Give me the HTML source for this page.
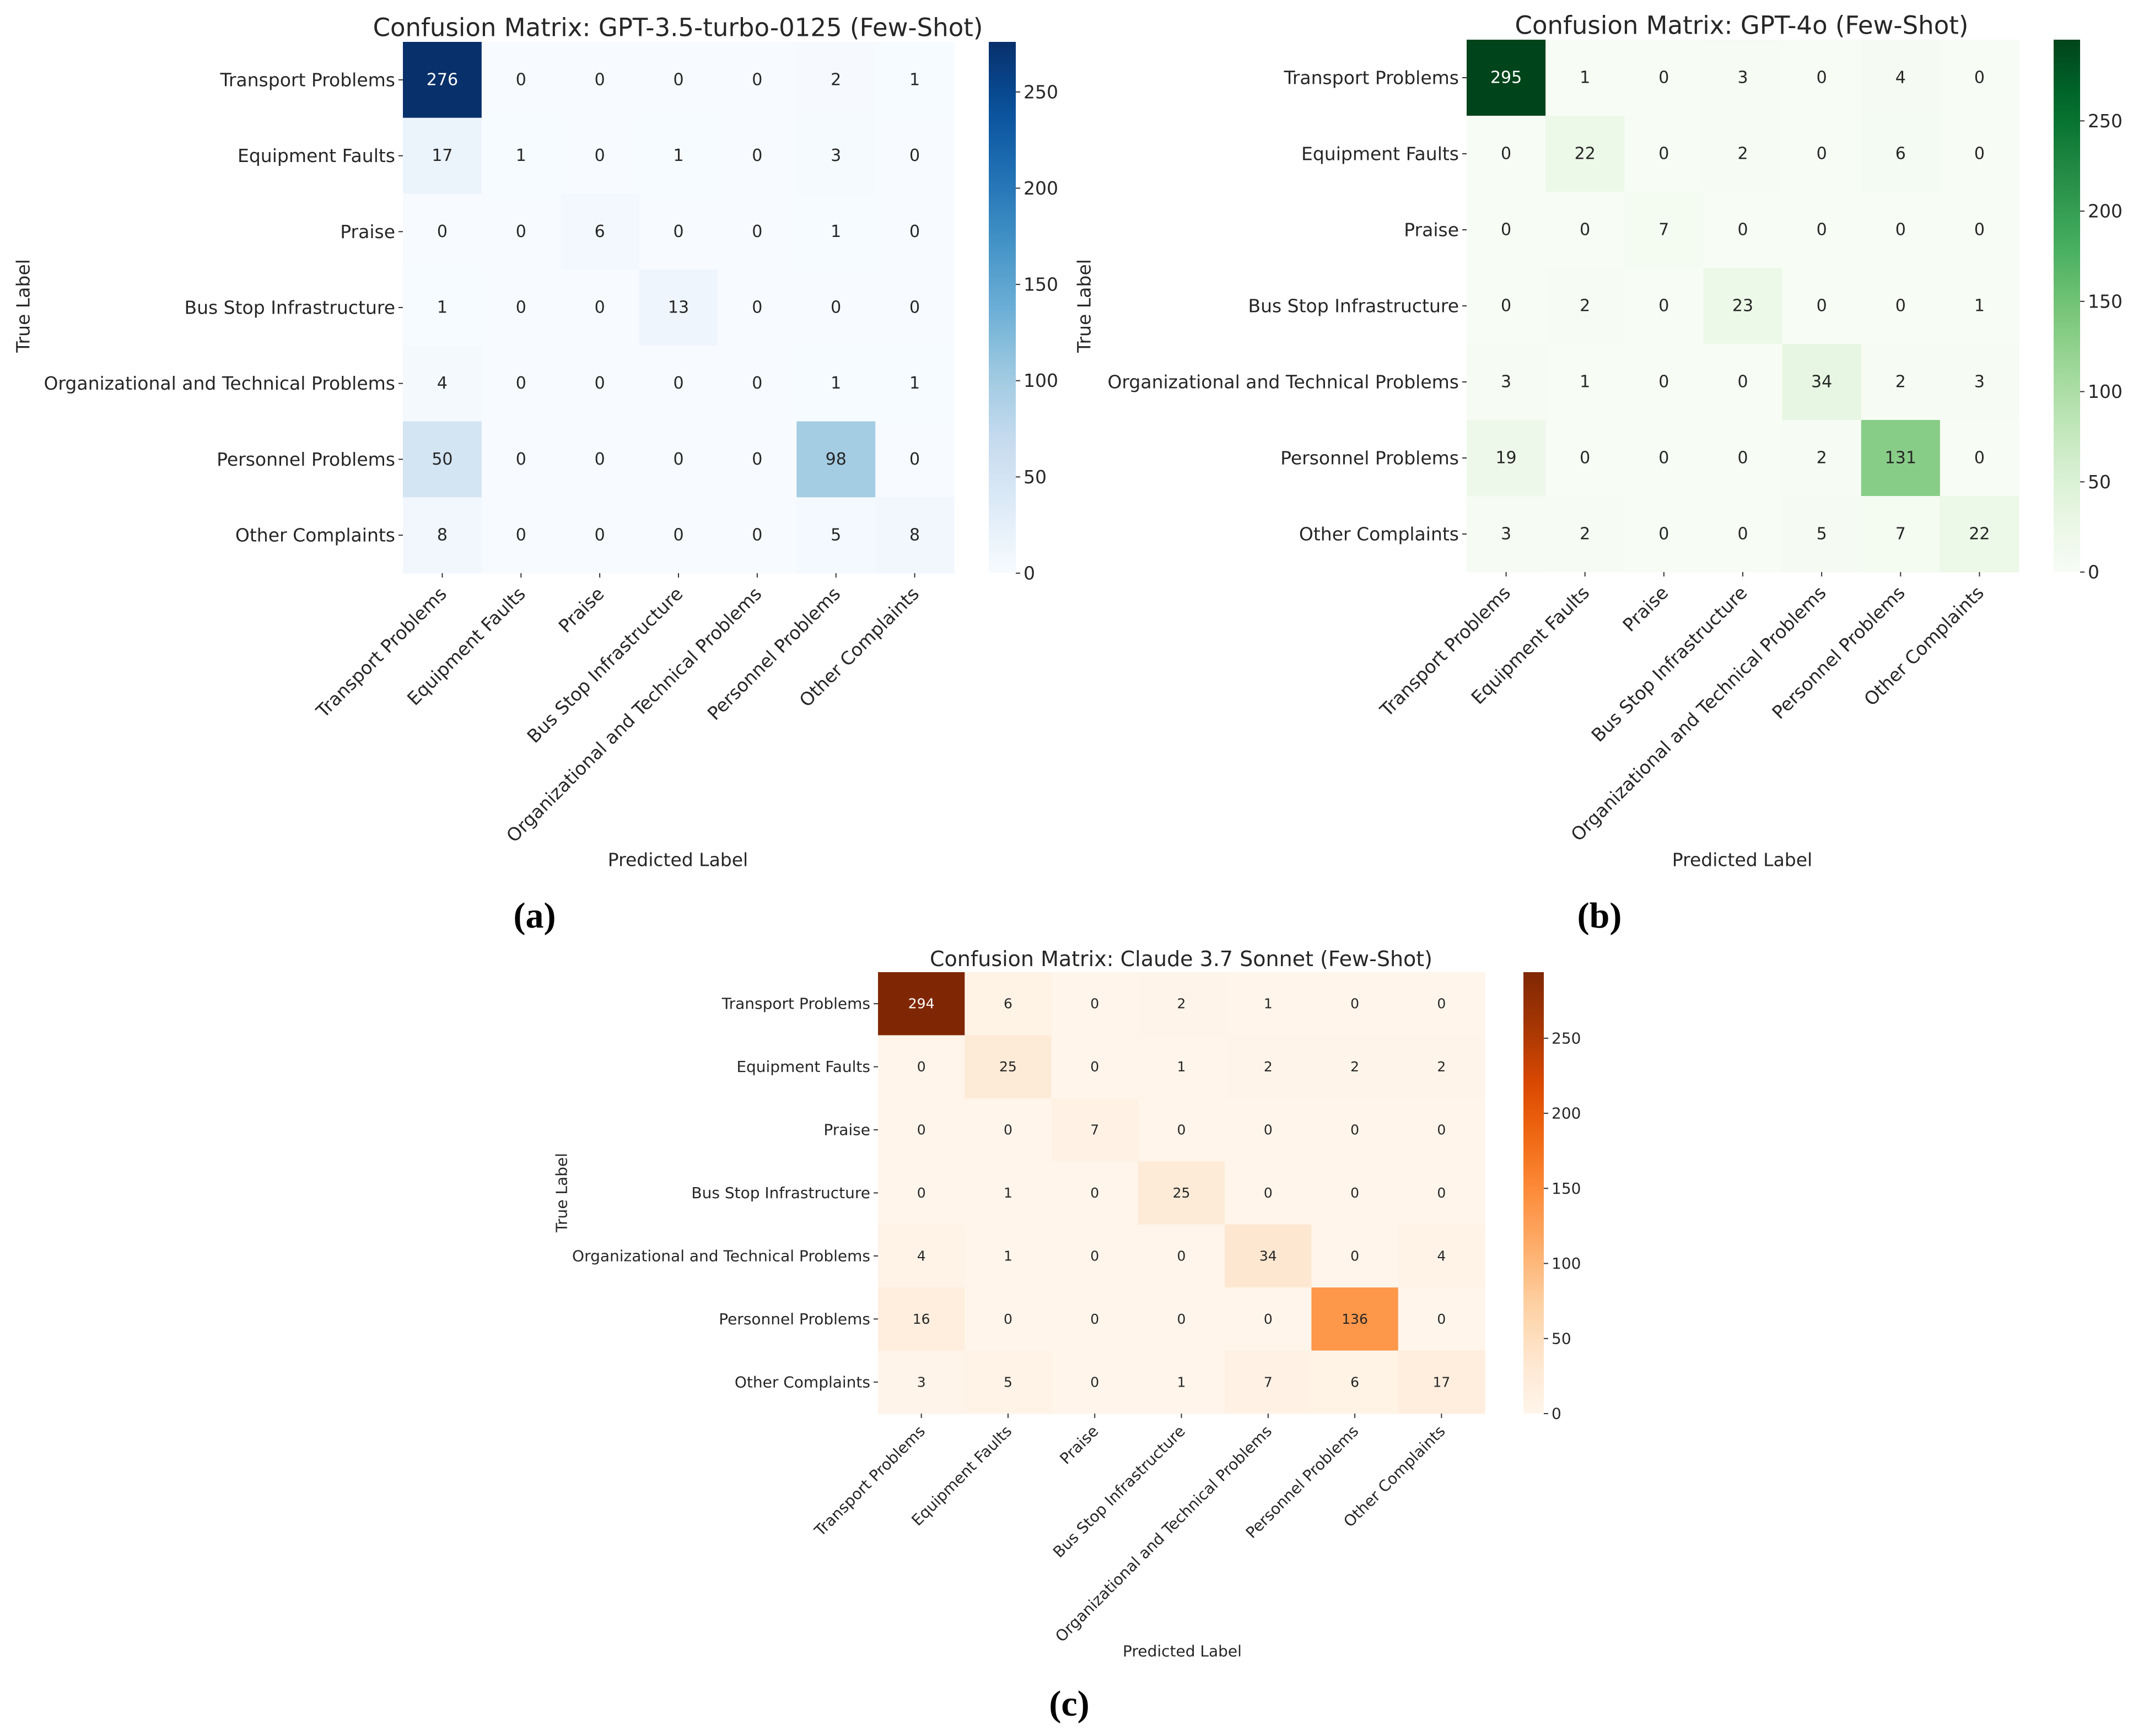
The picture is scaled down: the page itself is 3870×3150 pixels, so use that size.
<!DOCTYPE html>
<html><head><meta charset="utf-8"><style>
html,body{margin:0;padding:0;background:#fff;}
svg{display:block;}
text{font-family:"DejaVu Sans","Liberation Sans",sans-serif;}
</style></head>
<body>
<svg id="fig" width="3870" height="3150" viewBox="0 0 3870 3150" xmlns="http://www.w3.org/2000/svg"></svg>
<script>
const categories = ["Transport Problems","Equipment Faults","Praise","Bus Stop Infrastructure","Organizational and Technical Problems","Personnel Problems","Other Complaints"];
const gpt35Values = [
 [276,0,0,0,0,2,1],
 [17,1,0,1,0,3,0],
 [0,0,6,0,0,1,0],
 [1,0,0,13,0,0,0],
 [4,0,0,0,0,1,1],
 [50,0,0,0,0,98,0],
 [8,0,0,0,0,5,8]];
const gpt4oValues = [
 [295,1,0,3,0,4,0],
 [0,22,0,2,0,6,0],
 [0,0,7,0,0,0,0],
 [0,2,0,23,0,0,1],
 [3,1,0,0,34,2,3],
 [19,0,0,0,2,131,0],
 [3,2,0,0,5,7,22]];
const claudeValues = [
 [294,6,0,2,1,0,0],
 [0,25,0,1,2,2,2],
 [0,0,7,0,0,0,0],
 [0,1,0,25,0,0,0],
 [4,1,0,0,34,0,4],
 [16,0,0,0,0,136,0],
 [3,5,0,1,7,6,17]];
const colorbarTicks = [0,50,100,150,200,250];
const titles = ["Confusion Matrix: GPT-3.5-turbo-0125 (Few-Shot)","Confusion Matrix: GPT-4o (Few-Shot)","Confusion Matrix: Claude 3.7 Sonnet (Few-Shot)"];
const panelLetters = ["(a)","(b)","(c)"];

const BLUES=["#f7fbff","#deebf7","#c6dbef","#9ecae1","#6baed6","#4292c6","#2171b5","#08519c","#08306b"];
const GREENS=["#f7fcf5","#e5f5e0","#c7e9c0","#a1d99b","#74c476","#41ab5d","#238b45","#006d2c","#00441b"];
const ORANGES=["#fff5eb","#fee6ce","#fdd0a2","#fdae6b","#fd8d3c","#f16913","#d94801","#a63603","#7f2704"];

function hex(h){return [1,3,5].map(i=>parseInt(h.substr(i,2),16));}
function cmap(stops,t){
  t=Math.max(0,Math.min(1,t));const p=t*(stops.length-1);const i=Math.min(Math.floor(p),stops.length-2);const f=p-i;
  const a=hex(stops[i]),b=hex(stops[i+1]);return a.map((v,k)=>Math.round(v+(b[k]-v)*f));
}
function rgb(c){return "rgb("+c.join(",")+")";}
function lum(c){const l=c.map(v=>{v/=255;return v<=0.03928?v/12.92:Math.pow((v+0.055)/1.055,2.4);});return 0.2126*l[0]+0.7152*l[1]+0.0722*l[2];}

const svg=document.getElementById("fig");
const NS="http://www.w3.org/2000/svg";
function el(tag,attrs,parent){const e=document.createElementNS(NS,tag);for(const k in attrs)e.setAttribute(k,attrs[k]);(parent||svg).appendChild(e);return e;}
function txt(s,attrs,parent){const e=el("text",attrs,parent);e.textContent=s;return e;}

const panels=[
 {values:gpt35Values,stops:BLUES,x0:731,x1:1731,y0:76,y1:1040,cb0:1794,cb1:1843,fs:33,nfs:30,tx:1230,ty:50,tfs:45,px:1230,py:1560,ylx:42,yly:555,lx:970,ly:1683,name:"gpt35"},
 {values:gpt4oValues,stops:GREENS,x0:2661,x1:3663,y0:72,y1:1038,cb0:3726,cb1:3774,fs:33,nfs:30,tx:3160,ty:46,tfs:45,px:3161,py:1560,ylx:1967,yly:555,lx:2902,ly:1683,name:"gpt4o"},
 {values:claudeValues,stops:ORANGES,x0:1593,x1:2694,y0:1764,y1:2565,cb0:2764,cb1:2801,fs:28,nfs:25,tx:2143,ty:1740,tfs:38,px:2145,py:2996,ylx:1019,yly:2164,lx:1940,ly:3113,name:"claude"}
];

panels.forEach((P,pi)=>{
  const g=el("g",{});
  
  
  const vals=P.values;const n=categories.length;
  let vmax=0;vals.forEach(r=>r.forEach(v=>{if(v>vmax)vmax=v;}));
  const cw=(P.x1-P.x0)/n,ch=(P.y1-P.y0)/n;
  const xs=j=>P.x0+cw*j, ys=i=>P.y0+ch*i;
  for(let i=0;i<n;i++)for(let j=0;j<n;j++){
    const v=vals[i][j];const c=cmap(P.stops,v/vmax);
    const r=el("rect",{x:xs(j),y:ys(i),width:cw+0.6,height:ch+0.6,fill:rgb(c)},g);
    
    
    const t=txt(String(v),{x:xs(j)+cw/2,y:ys(i)+ch/2,"font-size":P.nfs,"text-anchor":"middle","dominant-baseline":"central",fill:lum(c)>0.408?"#262626":"#ffffff"},g);
    
    
  }
  categories.forEach((c,i)=>{
    const yc=ys(i)+ch/2;
    el("line",{x1:P.x0-8,x2:P.x0,y1:yc,y2:yc,stroke:"#333","stroke-width":2},g);
    const t=txt(c,{x:P.x0-14,y:yc,"font-size":P.fs,"text-anchor":"end","dominant-baseline":"central",fill:"#262626"},g);
    
    
  });
  const k=P.fs/30;
  categories.forEach((c,j)=>{
    const xc=xs(j)+cw/2;
    el("line",{x1:xc,x2:xc,y1:P.y1,y2:P.y1+8,stroke:"#333","stroke-width":2},g);
    const ax=xc+9*k, ay=P.y1+36*k;
    const t=txt(c,{x:ax,y:ay,"font-size":P.fs,"text-anchor":"end",transform:"rotate(-45 "+ax+" "+ay+")",fill:"#262626"},g);
    
    
  });
  const grad=el("linearGradient",{id:"g"+pi,x1:0,y1:1,x2:0,y2:0},g);
  for(let s=0;s<=20;s++){el("stop",{offset:s/20,"stop-color":rgb(cmap(P.stops,s/20))},grad);}
  const cb=el("rect",{x:P.cb0,y:P.y0,width:P.cb1-P.cb0,height:P.y1-P.y0,fill:"url(#g"+pi+")"},g);
  
  
  colorbarTicks.forEach(v=>{
    const y=P.y1-(v/vmax)*(P.y1-P.y0);
    el("line",{x1:P.cb1,x2:P.cb1+8,y1:y,y2:y,stroke:"#333","stroke-width":2},g);
    const t=txt(String(v),{x:P.cb1+14,y:y,"font-size":P.fs,"dominant-baseline":"central",fill:"#262626"},g);
    
    
  });
  const tt=txt(titles[pi],{x:P.tx,y:P.ty,"font-size":P.tfs,"text-anchor":"middle","dominant-baseline":"central",fill:"#262626"},g);
  
  
  const xl=txt("Predicted Label",{x:P.px,y:P.py,"font-size":P.fs,"text-anchor":"middle","dominant-baseline":"central",fill:"#262626"},g);
  
  
  const yl=txt("True Label",{x:P.ylx,y:P.yly,"font-size":P.fs,"text-anchor":"middle","dominant-baseline":"central",transform:"rotate(-90 "+P.ylx+" "+P.yly+")",fill:"#262626"},g);
  
  
  const pl=txt(panelLetters[pi],{x:P.lx,y:P.ly,"font-size":66,"font-weight":"bold","text-anchor":"middle",fill:"#000",style:"font-family:'Liberation Serif',serif"},g);
  
  
});
</script>
</body></html>
